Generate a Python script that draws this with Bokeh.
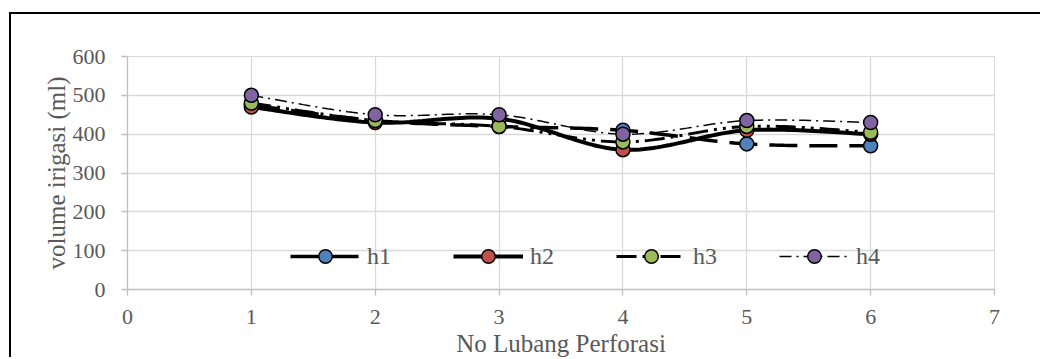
import numpy as np
from bokeh.plotting import figure
from bokeh.models import Legend, LegendItem, FixedTicker, Range1d
from bokeh.embed import file_html
from bokeh.resources import INLINE

# Irrigation volume (ml) per perforation hole, four head levels
lubang = [1, 2, 3, 4, 5, 6]
h1 = [475, 435, 420, 410, 375, 370]
h2 = [470, 430, 440, 360, 410, 400]
h3 = [480, 435, 420, 380, 420, 405]
h4 = [500, 450, 450, 400, 435, 430]

series_names = ["h1", "h2", "h3", "h4"]
series_values = [h1, h2, h3, h4]
marker_colors = ["#4F81BD", "#C0504D", "#9BBB59", "#8064A2"]
line_widths = [3.5, 4, 3, 1.5]
line_dashes = ["28 12", "solid", "20 6 3 6 3 6", "12 5 2 5"]

x_ticks = [0, 1, 2, 3, 4, 5, 6, 7]
y_ticks = [0, 100, 200, 300, 400, 500, 600]

FONT = "Liberation Serif"
GREY_TEXT = "#595959"


def smooth_path(xs, ys, n=30):
    """Cubic Bezier path through the points (spreadsheet-style smoothed line)."""
    pts = np.column_stack([xs, ys]).astype(float)
    out = [pts[0]]
    t = np.linspace(0, 1, n)[1:, None]
    for i in range(len(pts) - 1):
        p0, p3 = pts[i], pts[i + 1]
        prev = pts[i - 1] if i > 0 else pts[i]
        nxt = pts[i + 2] if i + 2 < len(pts) else pts[i + 1]
        c1 = p0 + (p3 - prev) / 6.0
        c2 = p3 - (nxt - p0) / 6.0
        seg = (1 - t) ** 3 * p0 + 3 * (1 - t) ** 2 * t * c1 + 3 * (1 - t) * t ** 2 * c2 + t ** 3 * p3
        out.extend(seg)
    arr = np.array(out)
    return arr[:, 0], arr[:, 1]


# Chart area with a black frame line along its left and top edges
p = figure(
    width=1031, height=345,
    x_range=Range1d(0, 7), y_range=Range1d(0, 600),
    output_backend="svg", toolbar_location=None,
    min_border_left=116, min_border_right=48,
    min_border_top=42, min_border_bottom=68,
    background_fill_color="white", border_fill_color="white",
    styles={
        "position": "absolute", "left": "11px", "top": "14px",
        "box-shadow": "-2px -2px 0 0 black",
    },
)
p.outline_line_color = "#D9D9D9"

p.xgrid.grid_line_color = "#D9D9D9"
p.ygrid.grid_line_color = "#D9D9D9"
p.xgrid.grid_line_width = 1.3
p.ygrid.grid_line_width = 1.3

p.xaxis.ticker = FixedTicker(ticks=x_ticks)
p.yaxis.ticker = FixedTicker(ticks=y_ticks)
for ax in (p.xaxis[0], p.yaxis[0]):
    ax.axis_line_color = "#BFBFBF"
    ax.axis_line_width = 1.3
    ax.major_tick_line_color = "#BFBFBF"
    ax.major_tick_line_width = 1.3
    ax.major_tick_out = 6
    ax.major_tick_in = 0
    ax.minor_tick_line_color = None
    ax.major_label_text_font = FONT
    ax.major_label_text_font_size = "22px"
    ax.major_label_text_color = GREY_TEXT
    ax.axis_label_text_font = FONT
    ax.axis_label_text_font_size = "25px"
    ax.axis_label_text_font_style = "normal"
    ax.axis_label_text_color = GREY_TEXT

p.xaxis.axis_label = "No Lubang Perforasi"
p.yaxis.axis_label = "volume irigasi (ml)"
p.xaxis.major_label_standoff = 14
p.yaxis.major_label_standoff = 16
p.xaxis.axis_label_standoff = 3
p.yaxis.axis_label_standoff = 0

items = []
for name, vals, col, lw, dash in zip(series_names, series_values, marker_colors, line_widths, line_dashes):
    sx, sy = smooth_path(lubang, vals)
    lr = p.line(sx, sy, line_color="black", line_width=lw, line_dash=dash, line_cap="butt")
    mr = p.scatter(lubang, vals, size=14, marker="circle", fill_color=col,
                   line_color="black", line_width=1.5)
    items.append(LegendItem(label=name, renderers=[lr, mr]))

legend = Legend(
    items=items, orientation="horizontal", location=(163, 16),
    glyph_width=70, glyph_height=34, label_standoff=7, spacing=62,
    padding=0, margin=0, border_line_color=None, background_fill_alpha=0,
    label_text_font=FONT, label_text_font_size="24px", label_text_color=GREY_TEXT,
)
p.add_layout(legend)

open("out.html", "w").write(file_html(p, INLINE))
